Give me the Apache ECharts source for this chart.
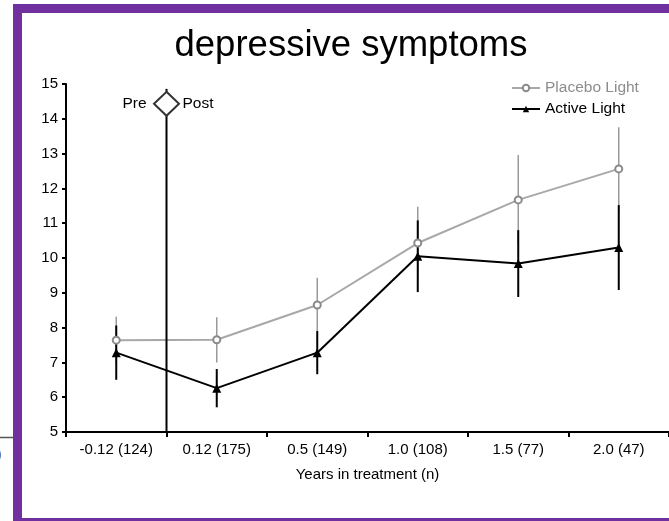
<!DOCTYPE html>
<html><head><meta charset="utf-8">
<script src="https://cdn.jsdelivr.net/npm/echarts@6/dist/echarts.min.js"></script>
<style>html,body{margin:0;padding:0;background:#fff}#c{width:669px;height:521px}</style>
</head><body><div id="c"></div>
<script>
const categories = ['-0.12 (124)', '0.12 (175)', '0.5 (149)', '1.0 (108)', '1.5 (77)', '2.0 (47)'];
const yMin = 5, yMax = 15, yStep = 1;
const placebo    = [7.64, 7.65, 8.65, 10.43, 11.67, 12.56];
const placeboErr = [0.67, 0.65, 0.78, 1.04, 1.29, 1.20];
const active     = [7.28, 6.26, 7.28, 10.05, 9.84, 10.30];
const activeErr  = [0.78, 0.55, 0.62, 1.03, 0.96, 1.22];
const seriesNames = ['Placebo Light', 'Active Light'];
const titleText = 'depressive symptoms';
const xName = 'Years in treatment (n)';

const FONT = '"Liberation Sans", Arial, sans-serif';
const chart = echarts.init(document.getElementById('c'));

function errSeries(vals, errs, color, width, z) {
  return {
    type: 'custom', z: z, silent: true,
    data: vals.map((v, i) => [i, v - errs[i], v + errs[i]]),
    renderItem(params, api) {
      const lo = api.coord([api.value(0), api.value(1)]);
      const hi = api.coord([api.value(0), api.value(2)]);
      return { type: 'line', shape: { x1: lo[0], y1: lo[1], x2: hi[0], y2: hi[1] },
               style: { stroke: color, lineWidth: width } };
    }
  };
}

chart.setOption({
  animation: false,
  backgroundColor: '#fff',
  grid: { left: 66, top: 84, width: 606, height: 348 },
  legend: {
    orient: 'vertical', left: 511, top: 80, padding: 0, itemWidth: 28, itemHeight: 8, itemGap: 5,
    textStyle: { fontFamily: FONT, fontSize: 15.5 },
    data: [
      { name: seriesNames[0], textStyle: { color: '#8c8c8c' } },
      { name: seriesNames[1], textStyle: { color: '#000' } }
    ]
  },
  xAxis: {
    type: 'category', data: categories, boundaryGap: true,
    name: xName, nameLocation: 'middle', nameGap: 35,
    nameTextStyle: { fontFamily: FONT, fontSize: 15, color: '#000' },
    axisLine: { lineStyle: { color: '#000', width: 2 } },
    axisTick: { show: true, length: 5, alignWithLabel: false, lineStyle: { color: '#000', width: 2 } },
    axisLabel: { fontFamily: FONT, fontSize: 15, color: '#000', margin: 10 },
    splitLine: { show: false }
  },
  yAxis: {
    type: 'value', min: yMin, max: yMax, interval: yStep,
    axisLine: { show: true, lineStyle: { color: '#000', width: 2 } },
    axisTick: { show: true, length: 4, lineStyle: { color: '#000', width: 2 } },
    axisLabel: { fontFamily: FONT, fontSize: 15, color: '#000', margin: 8 },
    splitLine: { show: false }
  },
  series: [
    errSeries(placebo, placeboErr, '#9a9a9a', 1.5, 1),
    errSeries(active, activeErr, '#000', 2, 2),
    {
      name: seriesNames[0], type: 'line', data: placebo, z: 3,
      symbol: 'emptyCircle', symbolSize: 7,
      lineStyle: { color: '#a8a8a8', width: 2 },
      itemStyle: { color: '#8a8a8a', borderColor: '#8a8a8a', borderWidth: 1.5 }
    },
    {
      name: seriesNames[1], type: 'line', data: active, z: 4,
      symbol: 'triangle', symbolSize: 9,
      lineStyle: { color: '#000', width: 2 },
      itemStyle: { color: '#000' }
    }
  ]
});

// annotation positions via the library's scales
const a = chart.convertToPixel({ gridIndex: 0 }, [0, 14.86]);
const b = chart.convertToPixel({ gridIndex: 0 }, [1, 14.43]);
const base = chart.convertToPixel({ gridIndex: 0 }, [1, yMin]);
const bx = (a[0] + b[0]) / 2;
const ty = a[1], dy = b[1], by = base[1];
const PURPLE = '#7030a0';
const DH = 12, DW = 12.5;

chart.setOption({
  graphic: [
    { type: 'text', id: 'title', x: 351, y: 46,
      style: { text: titleText, font: '36.5px ' + FONT, fill: '#000', textAlign: 'center', textVerticalAlign: 'middle' } },
    { type: 'line', id: 'vline1', shape: { x1: bx, y1: ty, x2: bx, y2: dy - DH }, style: { stroke: '#000', lineWidth: 2 }, z: 10 },
    { type: 'line', id: 'vline2', shape: { x1: bx, y1: dy + DH, x2: bx, y2: by }, style: { stroke: '#000', lineWidth: 2 }, z: 10 },
    { type: 'polygon', id: 'diamond', shape: { points: [[bx, dy - DH], [bx + DW, dy], [bx, dy + DH], [bx - DW, dy]] },
      style: { fill: '#fff', stroke: '#333', lineWidth: 2 }, z: 11 },
    { type: 'text', id: 'pre', x: bx - 20, y: dy,
      style: { text: 'Pre', font: '15.5px ' + FONT, fill: '#000', textAlign: 'right', textVerticalAlign: 'middle' } },
    { type: 'text', id: 'post', x: bx + 16, y: dy,
      style: { text: 'Post', font: '15.5px ' + FONT, fill: '#000', textAlign: 'left', textVerticalAlign: 'middle' } },
    { type: 'rect', id: 'fl', shape: { x: 13, y: 4, width: 9, height: 530 }, style: { fill: PURPLE }, z: 20 },
    { type: 'rect', id: 'ft', shape: { x: 13, y: 4, width: 700, height: 9 }, style: { fill: PURPLE }, z: 20 },
    { type: 'rect', id: 'fb', shape: { x: 13, y: 518, width: 700, height: 10 }, style: { fill: PURPLE }, z: 20 },
    { type: 'line', id: 'frag', shape: { x1: 0, y1: 437.5, x2: 13, y2: 437.5 }, style: { stroke: '#555', lineWidth: 1.5 }, z: 20 },
    { type: 'text', id: 'fragt', x: -3, y: 455,
      style: { text: ')', font: '14.5px ' + FONT, fill: '#4a6fb5', textVerticalAlign: 'middle' }, z: 20 }
  ]
});
</script>
</body></html>
